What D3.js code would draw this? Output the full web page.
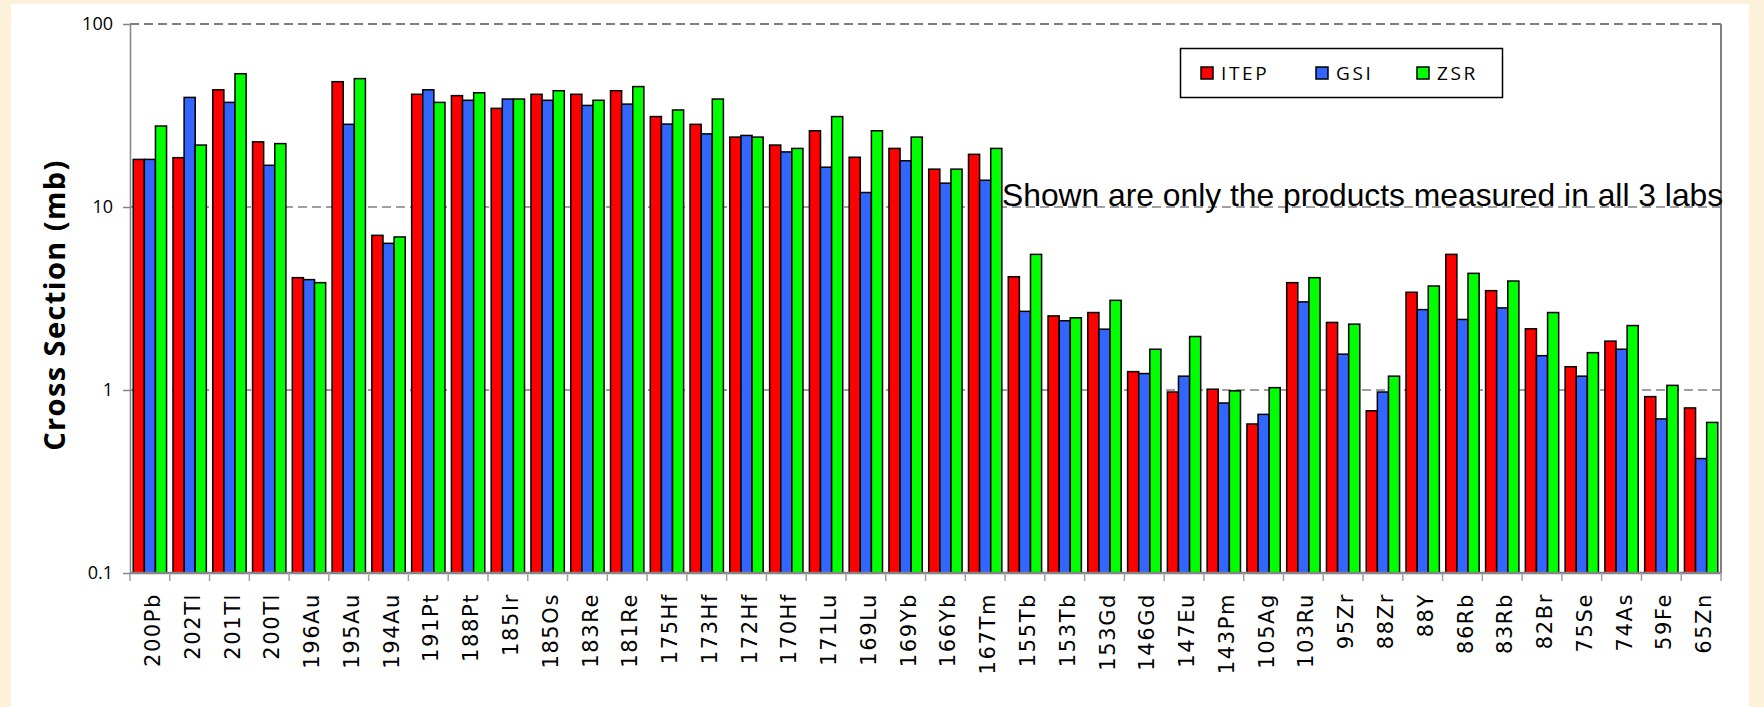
<!DOCTYPE html>
<html>
<head>
<meta charset="utf-8">
<script src="https://cdn.jsdelivr.net/npm/d3@7"></script>
<style>
  html, body { margin: 0; padding: 0; background: #fcf1da; }
  svg { display: block; }
  .x-axis text { font-family: "DejaVu Sans", sans-serif; }
  .y-axis text { font-family: "Open Sans", sans-serif; }
</style>
</head>
<body>
<svg id="chart"></svg>
<script>
// products measured in all 3 labs
const products = ['200Pb', '202Tl', '201Tl', '200Tl', '196Au', '195Au', '194Au', '191Pt', '188Pt', '185Ir',
  '185Os', '183Re', '181Re', '175Hf', '173Hf', '172Hf', '170Hf', '171Lu', '169Lu', '169Yb',
  '166Yb', '167Tm', '155Tb', '153Tb', '153Gd', '146Gd', '147Eu', '143Pm', '105Ag', '103Ru',
  '95Zr', '88Zr', '88Y', '86Rb', '83Rb', '82Br', '75Se', '74As', '59Fe', '65Zn'];

const itepValues = [18.2, 18.6, 43.7, 22.7, 4.11, 48.4, 7.0, 41.3, 40.6, 34.6,
  41.3, 41.3, 43.2, 31.2, 28.3, 24.1, 21.8, 26.1, 18.7, 20.9,
  16.1, 19.4, 4.16, 2.54, 2.65, 1.26, 0.975, 1.01, 0.652, 3.86,
  2.34, 0.77, 3.42, 5.51, 3.49, 2.16, 1.34, 1.85, 0.92, 0.798];

const gsiValues = [18.2, 39.7, 37.3, 16.9, 4.01, 28.3, 6.33, 43.7, 38.3, 38.9,
  38.3, 35.9, 36.5, 28.4, 25.1, 24.6, 20.0, 16.5, 12.0, 17.9,
  13.5, 14.0, 2.69, 2.39, 2.15, 1.23, 1.19, 0.849, 0.736, 3.03,
  1.57, 0.975, 2.75, 2.43, 2.81, 1.54, 1.19, 1.67, 0.695, 0.422];

const zsrValues = [27.7, 21.8, 53.5, 22.2, 3.86, 50.3, 6.86, 37.3, 42.1, 38.9,
  43.2, 38.3, 45.5, 33.9, 38.9, 24.1, 20.9, 31.2, 26.1, 24.1,
  16.1, 20.9, 5.51, 2.48, 3.09, 1.67, 1.96, 0.99, 1.03, 4.11,
  2.29, 1.19, 3.70, 4.34, 3.94, 2.65, 1.60, 2.25, 1.06, 0.665];

const seriesNames = ['ITEP', 'GSI', 'ZSR'];
const seriesColors = ['#ff0000', '#3366ff', '#00ff00'];
const yTickValues = [0.1, 1, 10, 100];
const yTickLabels = ['0.1', '1', '10', '100'];
const gridValues = [1, 10, 100];
const yTitle = 'Cross Section (mb)';
const note = 'Shown are only the products measured in all 3 labs';

class crossSectionChart {
    constructor(_config) {
        this.config = {
            parentElement: _config.parentElement,
            containerWidth: _config.containerWidth || 1764,
            containerHeight: _config.containerHeight || 707,
            margin: _config.margin || {top: 24, right: 43, bottom: 134, left: 130},
        }
        this.initVis();
    }

    initVis() {
        let vis = this;

        vis.width = vis.config.containerWidth - vis.config.margin.left - vis.config.margin.right;
        vis.height = vis.config.containerHeight - vis.config.margin.top - vis.config.margin.bottom;

        vis.xScale = d3.scaleBand()
            .domain(products)
            .range([0, vis.width])
            .padding(0);

        vis.xSubScale = d3.scaleBand()
            .domain(seriesNames)
            .range([0, vis.xScale.bandwidth()])
            .paddingInner(0)
            .paddingOuter(0.29);

        vis.yScale = d3.scaleLog()
            .domain([0.1, 100])
            .range([vis.height, 0]);

        vis.colorScale = d3.scaleOrdinal()
            .domain(seriesNames)
            .range(seriesColors);

        vis.yAxis = d3.axisLeft(vis.yScale)
            .tickValues(yTickValues)
            .tickFormat((d, i) => yTickLabels[i])
            .tickSizeInner(7)
            .tickSizeOuter(0)
            .tickPadding(10);

        vis.svg = d3.select(vis.config.parentElement)
            .attr('width', vis.config.containerWidth)
            .attr('height', vis.config.containerHeight);

        // white chart panel on the cream page
        vis.svg.append('rect')
            .attr('x', 11)
            .attr('y', 4)
            .attr('width', 1738)
            .attr('height', vis.config.containerHeight - 4)
            .attr('fill', '#ffffff');

        vis.chart = vis.svg.append('g')
            .attr('transform', `translate(${vis.config.margin.left},${vis.config.margin.top})`);

        vis.gridG = vis.chart.append('g').attr('class', 'grid');
        vis.noteG = vis.chart.append('g');
        vis.barsG = vis.chart.append('g').attr('class', 'bars');
        vis.xAxisG = vis.chart.append('g')
            .attr('class', 'axis x-axis')
            .attr('transform', `translate(0,${vis.height})`);
        vis.yAxisG = vis.chart.append('g').attr('class', 'axis y-axis');
        vis.legendG = vis.svg.append('g').attr('class', 'legend');
    }

    updateVis() {
        let vis = this;
        vis.tableData = products.map((p, i) => ({
            product: p,
            values: [itepValues[i], gsiValues[i], zsrValues[i]]
                .map((v, j) => ({key: seriesNames[j], value: v}))
        }));
        vis.renderVis();
    }

    renderVis() {
        let vis = this;

        // dashed grid lines
        vis.gridG.selectAll('line')
            .data(gridValues)
            .join('line')
            .attr('x1', 0)
            .attr('x2', vis.width)
            .attr('y1', d => vis.yScale(d))
            .attr('y2', d => vis.yScale(d))
            .attr('stroke', d => d === 100 ? '#555' : '#808080')
            .attr('stroke-width', 1.5)
            .attr('stroke-dasharray', '9,5');

        // right border of plot area
        vis.gridG.append('line')
            .attr('x1', vis.width).attr('x2', vis.width)
            .attr('y1', 0).attr('y2', vis.height)
            .attr('stroke', '#808080')
            .attr('stroke-width', 2);

        vis.noteG.append('text')
            .attr('x', 1002 - vis.config.margin.left)
            .attr('y', vis.yScale(10) - 1)
            .attr('font-family', '"Liberation Sans", Arial, sans-serif')
            .attr('font-size', 31.8)
            .attr('fill', '#000')
            .text(note);

        // grouped bars
        const groups = vis.barsG.selectAll('g')
            .data(vis.tableData)
            .join('g')
            .attr('transform', d => `translate(${vis.xScale(d.product)},0)`);

        groups.selectAll('rect')
            .data(d => d.values)
            .join('rect')
            .attr('x', d => vis.xSubScale(d.key))
            .attr('width', vis.xSubScale.bandwidth())
            .attr('y', d => vis.yScale(d.value))
            .attr('height', d => vis.height - vis.yScale(d.value))
            .attr('fill', d => vis.colorScale(d.key))
            .attr('stroke', '#000')
            .attr('stroke-width', 1.5);

        // x axis: line, boundary ticks, rotated labels
        vis.xAxisG.append('line')
            .attr('x1', 0).attr('x2', vis.width)
            .attr('stroke', '#858585')
            .attr('stroke-width', 2.5);

        const bounds = products.map(p => vis.xScale(p)).concat([vis.width]);
        vis.xAxisG.selectAll('.tick-line')
            .data(bounds)
            .join('line')
            .attr('class', 'tick-line')
            .attr('x1', d => d).attr('x2', d => d)
            .attr('y1', 0).attr('y2', 8)
            .attr('stroke', '#a0a0a0')
            .attr('stroke-width', 1.5);

        vis.xAxisG.selectAll('.x-label')
            .data(products)
            .join('text')
            .attr('class', 'x-label')
            .attr('transform', d => `translate(${vis.xScale(d) + vis.xScale.bandwidth() / 2},20) rotate(-90)`)
            .attr('dy', '0.48em')
            .attr('text-anchor', 'end')
            .attr('font-size', 21)
            .attr('letter-spacing', 1.6)
            .attr('fill', '#000')
            .text(d => d);

        vis.yAxisG.call(vis.yAxis);
        vis.yAxisG.select('.domain')
            .attr('stroke', '#858585')
            .attr('stroke-width', 1.5);
        vis.yAxisG.selectAll('.tick line')
            .attr('stroke', '#858585')
            .attr('stroke-width', 1.5);
        vis.yAxisG.selectAll('.tick text')
            .attr('font-size', 18)
            .attr('fill', '#000');

        // y axis title
        vis.svg.append('text')
            .attr('transform', 'translate(65,305) rotate(-90)')
            .attr('text-anchor', 'middle')
            .attr('font-family', '"Open Sans", sans-serif')
            .attr('font-weight', 'bold')
            .attr('font-size', 29)
            .attr('letter-spacing', 1.4)
            .attr('fill', '#000')
            .text(yTitle);

        // legend
        vis.legendG.append('rect')
            .attr('x', 1180.5).attr('y', 48.5)
            .attr('width', 322).attr('height', 49)
            .attr('fill', '#fff')
            .attr('stroke', '#000')
            .attr('stroke-width', 1.5);

        const legendX = [1201, 1316, 1417];
        const items = vis.legendG.selectAll('.legend-item')
            .data(seriesNames)
            .join('g')
            .attr('class', 'legend-item')
            .attr('transform', (d, i) => `translate(${legendX[i]},67)`);

        items.append('rect')
            .attr('width', 12).attr('height', 12)
            .attr('fill', d => vis.colorScale(d))
            .attr('stroke', '#000')
            .attr('stroke-width', 1.5);

        items.append('text')
            .attr('x', 20)
            .attr('y', 12.8)
            .attr('font-family', '"Open Sans", sans-serif')
            .attr('font-size', 19)
            .attr('letter-spacing', 2.6)
            .attr('fill', '#000')
            .text(d => d);
    }
}

const chart = new crossSectionChart({parentElement: '#chart'});
chart.updateVis();
</script>
</body>
</html>
